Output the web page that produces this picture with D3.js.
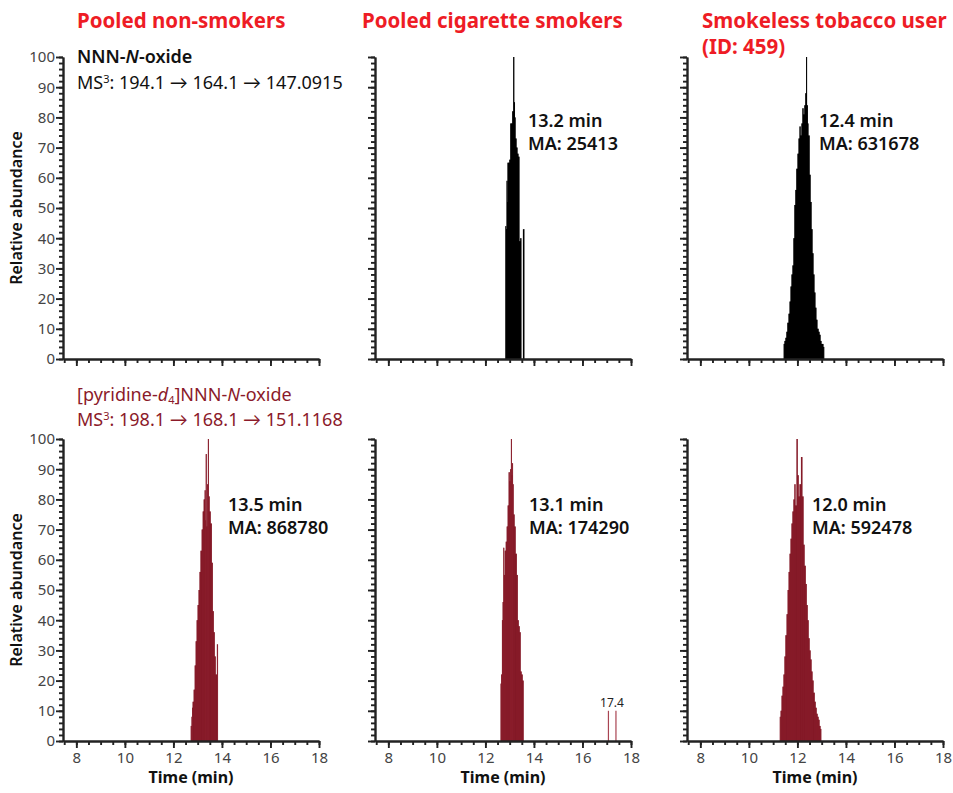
<!DOCTYPE html>
<html>
<head>
<meta charset="utf-8">
<style>
  body { margin: 0; background: #fff; }
  svg { display: block; font-family: "Noto Sans", sans-serif; }
  .axis path, .axis line { stroke: #222; stroke-width: 1.9; }
  .axis text { fill: #444; font-size: 15px; font-family: "Noto Sans", sans-serif; }
  .title { fill: #ee1c25; font-size: 20.5px; font-weight: bold; }
  .peak { font-size: 18px; font-weight: 600; fill: #111; }
  .arrow { font-family: Lato, "DejaVu Sans", sans-serif; }
</style>
</head>
<body>
<svg width="953" height="793"></svg>
<script src="https://cdn.jsdelivr.net/npm/d3@7"></script>
<script>
// column headings
var columns = ["Pooled non-smokers", "Pooled cigarette smokers", "Smokeless tobacco user"];

// NNN-N-oxide, cigarette smokers (time in min, relative abundance)
var tSmkAna = [12.84, 12.87, 12.89, 12.91, 12.93, 12.97, 13.01, 13.05, 13.09, 13.13, 13.17, 13.20, 13.22, 13.26, 13.30, 13.34, 13.38, 13.42, 13.46, 13.50, 13.59];
var vSmkAna = [44, 43, 59, 52, 65, 65, 66, 78, 78, 82, 100, 85, 80, 73, 70, 68, 67, 39, 40, 0, 43];

// NNN-N-oxide, smokeless tobacco user
var tStuAna = [11.45, 11.49, 11.53, 11.57, 11.61, 11.66, 11.70, 11.74, 11.78, 11.82, 11.86, 11.90, 11.94, 11.98, 12.03, 12.07, 12.11, 12.15, 12.19, 12.23, 12.27, 12.31, 12.35, 12.38, 12.41, 12.43, 12.48, 12.52, 12.56, 12.60, 12.64, 12.68, 12.72, 12.76, 12.80, 12.85, 12.89, 12.93, 12.97, 13.01, 13.05, 13.09];
var vStuAna = [5, 6, 7, 9, 12, 15, 19, 24, 28, 31, 40, 51, 56, 63, 68, 73, 77, 74, 78, 83, 81, 84, 88, 100, 84, 78, 74, 61, 52, 43, 35, 28, 22, 17, 13, 10, 9, 8, 6, 5, 5, 4];

// [pyridine-d4]NNN-N-oxide, pooled non-smokers
var tNonIS = [12.73, 12.77, 12.79, 12.81, 12.86, 12.90, 12.94, 12.98, 13.02, 13.06, 13.10, 13.14, 13.19, 13.23, 13.27, 13.31, 13.33, 13.35, 13.39, 13.41, 13.44, 13.47, 13.51, 13.56, 13.60, 13.64, 13.68, 13.72, 13.76, 13.82];
var vNonIS = [5, 8, 11, 13, 17, 25, 33, 40, 45, 50, 56, 63, 70, 76, 80, 83, 73, 95, 71, 85, 100, 81, 76, 72, 59, 43, 36, 28, 22, 32];

// [pyridine-d4]NNN-N-oxide, cigarette smokers
var tSmkIS = [12.64, 12.67, 12.70, 12.73, 12.76, 12.78, 12.82, 12.86, 12.90, 12.94, 12.98, 13.02, 13.04, 13.07, 13.10, 13.12, 13.14, 13.18, 13.22, 13.27, 13.31, 13.35, 13.39, 13.43, 13.47, 13.51, 13.56];
var vSmkIS = [19, 22, 40, 46, 64, 55, 63, 66, 71, 78, 89, 86, 90, 100, 88, 92, 85, 75, 71, 62, 55, 40, 38, 36, 23, 22, 20];
var tSmkISMinor = [17.07, 17.38];
var vSmkISMinor = [10, 10];

// [pyridine-d4]NNN-N-oxide, smokeless tobacco user
var tStuIS = [11.29, 11.33, 11.37, 11.41, 11.45, 11.49, 11.53, 11.58, 11.62, 11.66, 11.70, 11.74, 11.78, 11.82, 11.86, 11.90, 11.94, 11.99, 12.03, 12.07, 12.11, 12.18, 12.23, 12.27, 12.32, 12.36, 12.40, 12.44, 12.48, 12.52, 12.56, 12.60, 12.64, 12.69, 12.73, 12.77, 12.81, 12.85, 12.89, 12.93, 12.97];
var vStuIS = [8, 10, 15, 18, 22, 28, 35, 42, 50, 56, 62, 67, 72, 76, 80, 85, 78, 100, 88, 81, 85, 94, 81, 65, 58, 52, 45, 40, 34, 30, 27, 23, 20, 16, 13, 11, 9, 8, 7, 5, 4];

var peakTimes = [["", "13.2 min", "12.4 min"], ["13.5 min", "13.1 min", "12.0 min"]];
var peakAreas = [["", "MA: 25413", "MA: 631678"], ["MA: 868780", "MA: 174290", "MA: 592478"]];
var xMajor = [8, 10, 12, 14, 16, 18];
var yMajor = [0, 10, 20, 30, 40, 50, 60, 70, 80, 90, 100];
var transitions = [["194.1", "164.1", "147.0915"], ["198.1", "168.1", "151.1168"]];

var svg = d3.select("svg");
var colX = [63, 375, 687];
var rowY = [57, 439];
var pw = 256, ph = 302;
var black = "#000", red = "#7a111f", redLine = "#8a1e2c", labelRed = "#8b1a2a";

var series = [
  [null, [tSmkAna, vSmkAna], [tStuAna, vStuAna]],
  [[tNonIS, vNonIS], [tSmkIS, vSmkIS], [tStuIS, vStuIS]]
];

var x = d3.scaleLinear().domain([7.45, 18]).range([0, pw]);
var y = d3.scaleLinear().domain([0, 100]).range([ph, 0]);

var labelX = [[0, 153, 132], [165, 154, 125]];
var labelY = [70, 72];

for (var r = 0; r < 2; r++) {
  for (var c = 0; c < 3; c++) {
    var g = svg.append("g").attr("transform", "translate(" + colX[c] + "," + rowY[r] + ")");
    var col = r == 0 ? black : red;
    var s = series[r][c];
    if (s) {
      var pts = s[0].map(function(t, i) { return [t, s[1][i]]; });
      g.append("path")
        .datum(pts)
        .attr("fill", col)
        .attr("d", d3.area().curve(d3.curveStep)
          .x(function(d) { return x(d[0]); })
          .y0(y(0))
          .y1(function(d) { return y(d[1]); }));
      g.selectAll("line.stick")
        .data(pts.filter(function(d) { return d[1] > 0; }))
        .enter().append("line")
          .attr("class", "stick")
          .attr("x1", function(d) { return x(d[0]); })
          .attr("x2", function(d) { return x(d[0]); })
          .attr("y1", y(0))
          .attr("y2", function(d) { return y(d[1]); })
          .attr("stroke", r == 0 ? black : redLine)
          .attr("stroke-width", 1);
    }
    if (r == 1 && c == 1) {
      var minor = tSmkISMinor.map(function(t, i) { return [t, vSmkISMinor[i]]; });
      g.selectAll("line.minor")
        .data(minor)
        .enter().append("line")
          .attr("class", "minor")
          .attr("x1", function(d) { return x(d[0]); })
          .attr("x2", function(d) { return x(d[0]); })
          .attr("y1", y(0))
          .attr("y2", function(d) { return y(d[1]); })
          .attr("stroke", "#a94452")
          .attr("stroke-width", 1.2);
      g.append("text")
        .attr("x", x(d3.max(tSmkISMinor)) - 4)
        .attr("y", y(d3.max(vSmkISMinor)) - 4)
        .attr("text-anchor", "middle")
        .attr("font-size", "12px")
        .attr("fill", "#222")
        .text("17.4");
    }

    // minor ticks
    g.append("g").attr("class", "axis")
      .attr("transform", "translate(0," + ph + ")")
      .call(d3.axisBottom(x).tickValues(d3.range(7.5, 18.01, 0.5)).tickSize(4).tickSizeOuter(0).tickFormat(""));
    g.append("g").attr("class", "axis")
      .call(d3.axisLeft(y).tickValues(d3.range(0, 100.1, 2)).tickSize(4).tickSizeOuter(0).tickFormat(""));
    // major ticks
    g.append("g").attr("class", "axis")
      .attr("transform", "translate(0," + ph + ")")
      .call(d3.axisBottom(x).tickValues(xMajor).tickSize(7).tickSizeOuter(0).tickPadding(4)
        .tickFormat(r == 1 ? d3.format("d") : ""));
    g.append("g").attr("class", "axis")
      .call(d3.axisLeft(y).tickValues(yMajor).tickSize(7).tickSizeOuter(0).tickPadding(1)
        .tickFormat(c == 0 ? d3.format("d") : ""));

    if (r == 1) {
      g.append("text")
        .attr("x", pw / 2).attr("y", ph + 42)
        .attr("text-anchor", "middle")
        .attr("font-size", "16px").attr("font-weight", "bold").attr("fill", "#111")
        .text("Time (min)");
    }
    if (c == 0) {
      g.append("text")
        .attr("transform", "translate(-41," + (ph / 2) + ") rotate(-90)")
        .attr("text-anchor", "middle")
        .attr("font-size", "16px").attr("font-weight", 600).attr("fill", "#111")
        .text("Relative abundance");
    }
    if (peakTimes[r][c]) {
      g.append("text").attr("class", "peak")
        .attr("x", labelX[r][c]).attr("y", labelY[r])
        .text(peakTimes[r][c]);
      g.append("text").attr("class", "peak")
        .attr("x", labelX[r][c]).attr("y", labelY[r] + 23)
        .text(peakAreas[r][c]);
    }
  }
}

// column titles
svg.append("text").attr("class", "title").attr("x", 77).attr("y", 28).text(columns[0]);
svg.append("text").attr("class", "title").attr("x", 362).attr("y", 28).text(columns[1]);
svg.append("text").attr("class", "title").attr("x", 702).attr("y", 28).text(columns[2]);
svg.append("text").attr("class", "title").attr("x", 702).attr("y", 54).text("(ID: 459)");

// MS3 transition line
function msLine(yPos, tr, fill) {
  var t = svg.append("text").attr("x", 77).attr("y", yPos).attr("font-size", "18px").attr("fill", fill);
  t.append("tspan").text("MS");
  t.append("tspan").attr("font-size", "11px").attr("dy", -6).text("3");
  t.append("tspan").attr("dy", 6).text(": " + tr[0] + " ");
  t.append("tspan").attr("class", "arrow").text("\u2192");
  t.append("tspan").text(" " + tr[1] + " ");
  t.append("tspan").attr("class", "arrow").text("\u2192");
  t.append("tspan").text(" " + tr[2]);
}

// compound annotations
var t1 = svg.append("text").attr("x", 77).attr("y", 63).attr("font-size", "18px").attr("font-weight", 600).attr("fill", "#111");
t1.append("tspan").text("NNN-");
t1.append("tspan").attr("font-style", "italic").text("N");
t1.append("tspan").text("-oxide");
msLine(89, transitions[0], "#111");

var t3 = svg.append("text").attr("x", 77).attr("y", 401).attr("font-size", "18px").attr("fill", labelRed);
t3.append("tspan").text("[pyridine-");
t3.append("tspan").attr("font-style", "italic").text("d");
t3.append("tspan").attr("font-size", "11px").attr("dy", 3).text("4");
t3.append("tspan").attr("dy", -3).text("]NNN-");
t3.append("tspan").attr("font-style", "italic").text("N");
t3.append("tspan").text("-oxide");
msLine(426, transitions[1], labelRed);
</script>
</body>
</html>
